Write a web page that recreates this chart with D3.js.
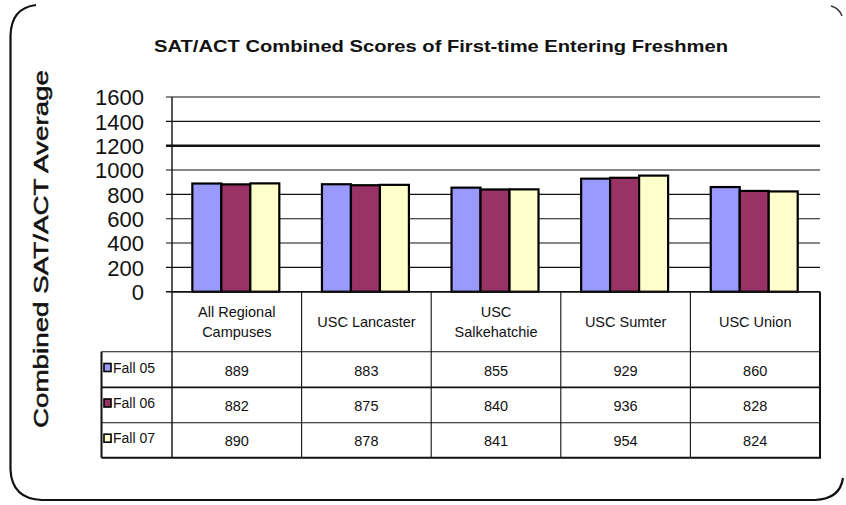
<!DOCTYPE html>
<html><head><meta charset="utf-8">
<script src="https://cdn.jsdelivr.net/npm/d3@7"></script>
<style>
html,body{margin:0;padding:0;background:#fff;}
svg{display:block;}
text{font-family:"Liberation Sans",Arial,sans-serif;fill:#111;}
</style></head>
<body>
<svg id="chart" width="846" height="505"></svg>
<script>
const title = "SAT/ACT Combined Scores of First-time Entering Freshmen";
const yLabel = "Combined SAT/ACT Average";
const categories = ["All Regional Campuses","USC Lancaster","USC Salkehatchie","USC Sumter","USC Union"];
const categoryLines = [["All Regional","Campuses"],["USC Lancaster"],["USC","Salkehatchie"],["USC Sumter"],["USC Union"]];
const seriesNames = ["Fall 05","Fall 06","Fall 07"];
const fall05 = [889,883,855,929,860];
const fall06 = [882,875,840,936,828];
const fall07 = [890,878,841,954,824];
const seriesValues = [fall05, fall06, fall07];
const seriesColors = ["#9999FF","#993366","#FFFFCC"];
const yTicks = [0,200,400,600,800,1000,1200,1400,1600];

(function(){
const svg = d3.select("#chart");

// frame (partial rounded border like the source)
const frame = d3.path();
frame.moveTo(36,5);
frame.quadraticCurveTo(11,8,10.5,36);
frame.lineTo(10.5,470);
frame.quadraticCurveTo(12,499,42,500);
frame.lineTo(815,500);
frame.quadraticCurveTo(840,499,843,478);
svg.append("path").attr("d",frame.toString()).attr("fill","none").attr("stroke","#111").attr("stroke-width",2.2);
const frame2 = d3.path();
frame2.moveTo(831,6); frame2.quadraticCurveTo(839,8,842,16);
svg.append("path").attr("d",frame2.toString()).attr("fill","none").attr("stroke","#333").attr("stroke-width",1.5);

const pLeft = 172, pRight = 820, pTop = 97, pBase = 291.7;
const tblRows = [291.7, 351.7, 387.3, 422.7, 457.7];
const tblLeft = 101.5;

const x0 = d3.scaleBand().domain(categories).range([pLeft,pRight]).padding(0);
const bw = x0.bandwidth();
const x1 = d3.scaleBand().domain(seriesNames).range([bw*0.157, bw*0.828]).padding(0);
const y = d3.scaleLinear().domain([0,1600]).range([pBase, pTop]);

// title
svg.append("text").attr("x",441).attr("y",52).attr("text-anchor","middle")
  .attr("font-size",17).attr("font-weight","bold")
  .attr("textLength",574).attr("lengthAdjust","spacingAndGlyphs").text(title);

// y label
svg.append("text").attr("transform","translate(48,249) rotate(-90)")
  .attr("text-anchor","middle").attr("font-size",21)
  .attr("stroke","#111").attr("stroke-width",0.5)
  .attr("textLength",358).attr("lengthAdjust","spacingAndGlyphs").text(yLabel);

// gridlines
svg.append("g").selectAll("line").data(yTicks).join("line")
  .attr("x1",166).attr("x2",pRight)
  .attr("y1",d=>y(d)).attr("y2",d=>y(d))
  .attr("stroke","#111").attr("stroke-width",d=>d===1200?2.6:(d===0?1.6:1.1));

// y axis labels
const yAxis = d3.axisLeft(y).tickValues(yTicks).tickSize(0).tickPadding(28).tickFormat(d3.format("d"));
const ga = svg.append("g").attr("transform",`translate(${pLeft},0)`).call(yAxis);
ga.select(".domain").remove();
ga.selectAll("text").attr("font-size",22).attr("font-family","'Liberation Sans',Arial,sans-serif").attr("fill","#222").attr("dy","0.36em");

// bars
const groups = svg.append("g").selectAll("g").data(categories).join("g")
  .attr("transform",d=>`translate(${x0(d)},0)`);
groups.selectAll("rect").data((d,i)=>seriesNames.map((s,j)=>({s, v:seriesValues[j][i], c:seriesColors[j]})))
  .join("rect")
  .attr("x",d=>x1(d.s)).attr("width",x1.bandwidth())
  .attr("y",d=>y(d.v)).attr("height",d=>y(0)-y(d.v))
  .attr("fill",d=>d.c).attr("stroke","#000").attr("stroke-width",2.2);

// vertical axis line (continues into table)
svg.append("line").attr("x1",pLeft).attr("x2",pLeft).attr("y1",pTop).attr("y2",tblRows[4])
  .attr("stroke","#111").attr("stroke-width",1.4);

// table
const tg = svg.append("g");
tg.append("line").attr("x1",pLeft).attr("x2",pRight).attr("y1",tblRows[0]).attr("y2",tblRows[0]).attr("stroke","#111").attr("stroke-width",1.6);
[1,2,3].forEach(k=>{
  tg.append("line").attr("x1",tblLeft).attr("x2",pRight).attr("y1",tblRows[k]).attr("y2",tblRows[k])
    .attr("stroke","#111").attr("stroke-width",k===2?1.8:1.1);
});
tg.append("line").attr("x1",tblLeft).attr("x2",pRight+1).attr("y1",tblRows[4]).attr("y2",tblRows[4]).attr("stroke","#111").attr("stroke-width",2);
tg.append("line").attr("x1",tblLeft).attr("x2",tblLeft).attr("y1",tblRows[1]).attr("y2",tblRows[4]).attr("stroke","#111").attr("stroke-width",2);
categories.forEach((c,i)=>{
  if(i>0) tg.append("line").attr("x1",x0(c)).attr("x2",x0(c)).attr("y1",tblRows[0]).attr("y2",tblRows[4]).attr("stroke","#111").attr("stroke-width",1.1);
});
tg.append("line").attr("x1",pRight).attr("x2",pRight).attr("y1",tblRows[0]).attr("y2",tblRows[4]).attr("stroke","#111").attr("stroke-width",2);

// header text
categories.forEach((c,i)=>{
  const lines = categoryLines[i];
  const cx = x0(c)+bw/2;
  const mid = (tblRows[0]+tblRows[1])/2;
  lines.forEach((ln,k)=>{
    const yy = mid + (k-(lines.length-1)/2)*20;
    tg.append("text").attr("x",cx).attr("y",yy).attr("dy","0.36em").attr("text-anchor","middle")
      .attr("font-size",14.5).attr("fill","#222").text(ln);
  });
});

// rows
seriesNames.forEach((s,j)=>{
  const cy = (tblRows[j+1]+tblRows[j+2])/2;
  tg.append("rect").attr("x",104).attr("y",cy-6).attr("width",7).attr("height",8)
    .attr("fill",seriesColors[j]).attr("stroke","#000").attr("stroke-width",1.6);
  tg.append("text").attr("x",113).attr("y",cy-2).attr("dy","0.36em").attr("font-size",14).attr("fill","#222").text(s);
  categories.forEach((c,i)=>{
    tg.append("text").attr("x",x0(c)+bw/2).attr("y",cy+1).attr("dy","0.36em").attr("text-anchor","middle")
      .attr("font-size",14.5).attr("fill","#222").text(seriesValues[j][i]);
  });
});
})();
</script>
</body></html>
